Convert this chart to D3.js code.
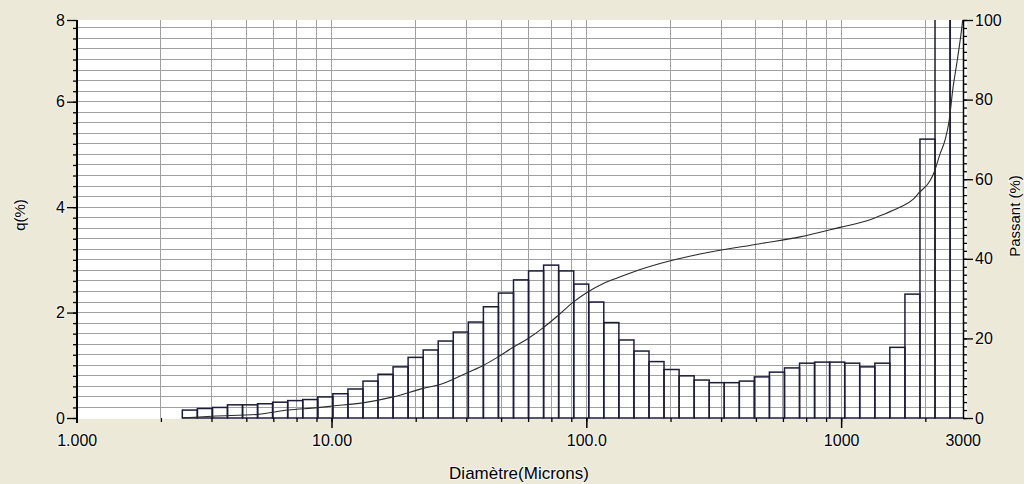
<!DOCTYPE html>
<html><head><meta charset="utf-8">
<script src="https://cdn.jsdelivr.net/npm/d3@7"></script>
<style>
html,body{margin:0;padding:0;background:#ece9d8;}
svg{display:block;}
</style></head><body>
<svg id="c" width="1024" height="484"></svg>
<script>
// Bin edges (microns) of the histogram classes
const binEdges = [2.597,2.975,3.409,3.906,4.475,5.127,5.874,6.730,7.711,8.834,
  10.12,11.60,13.29,15.22,17.44,19.98,22.90,26.23,30.05,34.43,
  39.45,45.20,51.79,59.33,67.98,77.89,89.24,102.2,117.1,134.2,
  153.8,176.2,201.8,231.3,265.0,303.6,347.8,398.5,456.6,523.1,
  599.3,686.7,786.8,901.4,1033,1183,1356,1553,1780,2039,
  2336,2677,3067];
// q (%) per class
const qValues = [0.15,0.18,0.20,0.25,0.25,0.27,0.30,0.33,0.35,0.40,
  0.46,0.55,0.70,0.83,0.97,1.15,1.29,1.46,1.63,1.82,
  2.11,2.37,2.62,2.79,2.90,2.79,2.54,2.20,1.81,1.48,
  1.27,1.07,0.92,0.80,0.72,0.67,0.67,0.70,0.78,0.87,
  0.95,1.04,1.06,1.06,1.04,0.97,1.04,1.34,2.35,5.29,
  12.6,25.0];
// Cumulative passing curve
const passantDiam = [2.6,3.4,5.15,6.73,8.83,10.1,13.26,17.48,23.07,26.66,34.43,39.42,45.43,51.41,58.9,67.8,77.6,88.9,100.9,116.6,133.6,152.9,194.7,279.4,480.5,689.9,990,1298.6,1421,1705,1920,2022,2233,2315,2443,2557,2651,2749,2850,2955,3000];
const passantPct  = [0,0.45,0.9,2.0,2.6,3.0,3.8,5.3,7.5,8.4,11.5,13.2,15.5,17.7,19.9,22.7,25.8,29.1,31.6,33.8,35.3,36.7,38.8,41.2,43.8,45.5,47.9,49.8,50.8,53.0,55.0,56.6,59.6,61.7,66.3,69.8,74.5,83,89.5,96.5,100];
// Axis ticks
const xTickValues = [1,10,100,1000,3000];
const xMajorTicks = [10,100,1000];
const xGridValues = [2.14,3.38,4.63,5.91,7.29,8.73,10,21.4,33.8,46.3,59.1,72.9,87.3,100,214,338,463,591,729,873,1000,2140];
const leftTickValues = [0,2,4,6,7.55];
const rightTickValues = [0,20,40,60,80,100];

const FONT = '"Liberation Sans", Arial, sans-serif';
const svg = d3.select("#c");
const L = 76.7, R = 962.7, T = 20, B = 418;
const x = d3.scaleLog().domain([1, 3000]).range([L, R]);
const y = d3.scaleLinear().domain([0, 7.55]).range([B, T]);
const y2 = d3.scaleLinear().domain([0, 100]).range([B, T]);

// plot background
svg.append("rect").attr("x", 77).attr("y", T).attr("width", 890).attr("height", B - T + 1).attr("fill", "#ffffff");

svg.append("defs").append("clipPath").attr("id", "clip")
  .append("rect").attr("x", 76).attr("y", T).attr("width", R - 76 + 0.5).attr("height", B - T + 1);

// gridlines
const grid = svg.append("g").attr("stroke", "#a0a0a0").attr("stroke-width", 1).attr("shape-rendering", "crispEdges");
grid.selectAll("line.h").data(d3.range(1, 38).map(i => i * 0.2)).enter().append("line")
  .attr("x1", L).attr("x2", R).attr("y1", d => y(d)).attr("y2", d => y(d));
grid.selectAll("line.v").data(xGridValues).enter().append("line")
  .attr("y1", T).attr("y2", B).attr("x1", d => x(d)).attr("x2", d => x(d));

// bars
const plot = svg.append("g").attr("clip-path", "url(#clip)");
plot.selectAll("rect.bar").data(qValues).enter().append("rect")
  .attr("x", (d, i) => x(binEdges[i]))
  .attr("width", (d, i) => x(binEdges[i + 1]) - x(binEdges[i]))
  .attr("y", d => y(d))
  .attr("height", d => B - y(d))
  .attr("fill", "none").attr("stroke", "#1c1c3a").attr("stroke-width", 1.5);

// cumulative curve
const pts = passantDiam.map((d, i) => [d, passantPct[i]]);
plot.append("path").datum(pts)
  .attr("d", d3.line().x(d => x(d[0])).y(d => y2(d[1])).curve(d3.curveMonotoneX))
  .attr("fill", "none").attr("stroke", "#2a2a2a").attr("stroke-width", 1.1);

function styleText(g, anchor) {
  g.selectAll("text").attr("font-family", FONT).attr("font-size", 16).attr("fill", "#000")
    .attr("stroke", "#ffffff").attr("stroke-width", 2).attr("stroke-opacity", 0.6)
    .attr("paint-order", "stroke");
  if (anchor) g.selectAll("text").attr("text-anchor", anchor);
}

// left axis: minor ticks
const lMinor = svg.append("g").attr("transform", `translate(${77},0)`)
  .call(d3.axisLeft(y).tickValues(d3.range(0, 38).map(i => i * 0.2)).tickSize(4).tickFormat(""));
lMinor.select(".domain").remove();
lMinor.selectAll("line").attr("stroke", "#000").attr("stroke-width", 1.3);
// left axis: major
const lAx = svg.append("g").attr("transform", `translate(${77},0)`)
  .call(d3.axisLeft(y).tickValues(leftTickValues).tickSize(10).tickPadding(2).tickFormat(d3.format(".0f")));
lAx.select(".domain").remove();
lAx.selectAll("line").attr("stroke", "#000").attr("stroke-width", 1.3);
styleText(lAx);
svg.append("line").attr("x1", 77).attr("x2", 77).attr("y1", T).attr("y2", B + 5)
  .attr("stroke", "#000").attr("stroke-width", 2);

// right axis
const rMinor = svg.append("g").attr("transform", `translate(${963},0)`)
  .call(d3.axisRight(y2).tickValues(d3.range(0, 51).map(i => i * 2)).tickSize(4).tickFormat(""));
rMinor.select(".domain").remove();
rMinor.selectAll("line").attr("stroke", "#000").attr("stroke-width", 1.3);
const rAx = svg.append("g").attr("transform", `translate(${963},0)`)
  .call(d3.axisRight(y2).tickValues(rightTickValues).tickSize(10).tickPadding(2).tickFormat(d3.format("d")));
rAx.select(".domain").remove();
rAx.selectAll("line").attr("stroke", "#000").attr("stroke-width", 1.3);
styleText(rAx);
svg.append("line").attr("x1", 963.5).attr("x2", 963.5).attr("y1", T).attr("y2", B)
  .attr("stroke", "#000").attr("stroke-width", 1.5);

// bottom axis
const bMinor = svg.append("g").attr("transform", `translate(0,${B})`)
  .call(d3.axisBottom(x).tickValues(xGridValues).tickSize(4).tickFormat(""));
bMinor.select(".domain").remove();
bMinor.selectAll("line").attr("stroke", "#000").attr("stroke-width", 1.3);
const bMajor = svg.append("g").attr("transform", `translate(0,${B})`)
  .call(d3.axisBottom(x).tickValues(xMajorTicks).tickSize(10).tickFormat(""));
bMajor.select(".domain").remove();
bMajor.selectAll("line").attr("stroke", "#000").attr("stroke-width", 1.5);
const bAx = svg.append("g").attr("transform", `translate(0,${B})`)
  .call(d3.axisBottom(x).tickValues(xTickValues).tickSize(0).tickPadding(17).tickFormat(d3.format(".4r")));
bAx.select(".domain").remove();
styleText(bAx, "middle");

// axis titles
const titles = svg.append("g");
titles.append("text").attr("x", 519).attr("y", 479).attr("text-anchor", "middle").attr("class", "xt").text("Diamètre(Microns)");
titles.append("text").attr("transform", "translate(25,215) rotate(-90)").attr("text-anchor", "middle").text("q(%)");
titles.append("text").attr("transform", "translate(1020,216) rotate(-90)").attr("text-anchor", "middle").text("Passant (%)");
styleText(titles);
titles.selectAll("text").attr("font-size", 15);
titles.select(".xt").attr("font-size", 17);
</script>
</body></html>
